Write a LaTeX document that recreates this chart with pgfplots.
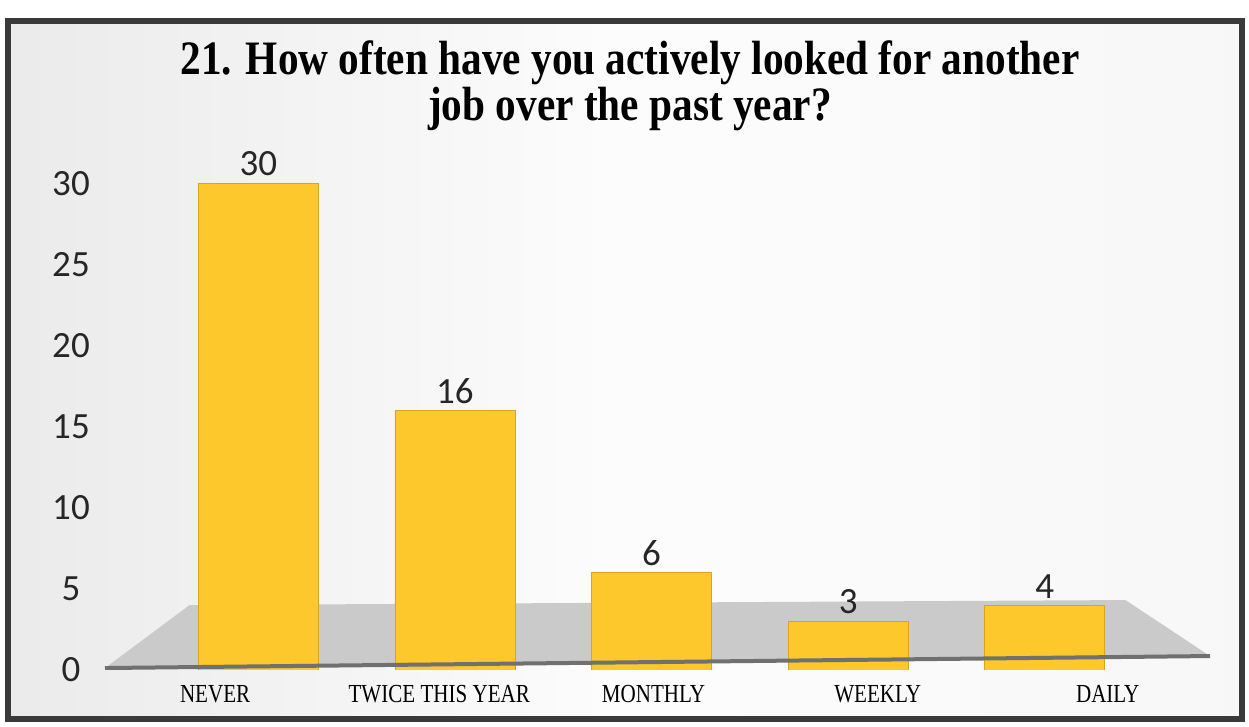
\documentclass[border=0pt]{standalone}
\usepackage{fontspec}
\usepackage{pgfplots}
\pgfplotsset{compat=1.18}
\newfontfamily\carlito{Carlito}
\newfontfamily\condserif[FakeStretch=0.81]{Liberation Serif}
\newfontfamily\titleserif[FakeStretch=0.86]{Liberation Serif}
\definecolor{barY}{HTML}{FCC82B}
\definecolor{barEdge}{HTML}{D9A520}
\definecolor{frameC}{HTML}{3A3A3A}
\definecolor{floorC}{HTML}{CACACA}
\definecolor{edgeC}{HTML}{707070}
\begin{document}
\begin{tikzpicture}
\path[fill=white] (0,0) rectangle (624.5pt,363.5pt);
\fill[left color=gray!16, right color=gray!6, middle color=gray!2] (4pt,4pt) rectangle (621pt,353pt);
\begin{axis}[
  at={(52.5pt,28.5pt)}, anchor=south west,
  scale only axis, width=552.5pt, height=251.5pt,
  xmin=-0.78, xmax=4.84, ymin=0, ymax=31,
  axis line style={draw=none}, major tick length=0pt,
  ytick={0,5,10,15,20,25,30},
  xtick={-0.22,0.92,2.01,3.15,4.32},
  xticklabels={NEVER,TWICE THIS YEAR,MONTHLY,WEEKLY,DAILY},
  /pgf/number format/assume math mode=true,
  xticklabel style={font=\condserif\fontsize{13}{15}\selectfont, anchor=base, yshift=-16.5pt},
  yticklabel style={font=\carlito\fontsize{18.5}{20}\selectfont, text=black!85, anchor=center, xshift=-17pt},
  ybar, bar width=60pt,
  nodes near coords,
  every node near coord/.append style={font=\carlito\fontsize{18.5}{20}\selectfont, text=black!85},
]
\fill[floorC] (axis cs:-0.78,0.12) -- (axis cs:4.84,0.86) -- (axis cs:4.41,4.31) -- (axis cs:-0.35,4.0) -- cycle;
\addplot[fill=barY, draw=barEdge] coordinates {(0,30) (1,16) (2,6) (3,3) (4,4)};
\draw[edgeC, line width=2pt] (axis cs:-0.78,0.12) -- (axis cs:4.84,0.86);
\end{axis}
\node[anchor=base, inner sep=1pt, font=\titleserif\bfseries\fontsize{24}{28}\selectfont] at (315pt,326pt) {21. How often have you actively looked for another};
\node[anchor=base, inner sep=1pt, font=\titleserif\bfseries\fontsize{24}{28}\selectfont] at (315pt,303pt) {job over the past year?};
\draw[frameC, line width=3pt] (4pt,4pt) rectangle (621pt,353pt);
\end{tikzpicture}
\end{document}
